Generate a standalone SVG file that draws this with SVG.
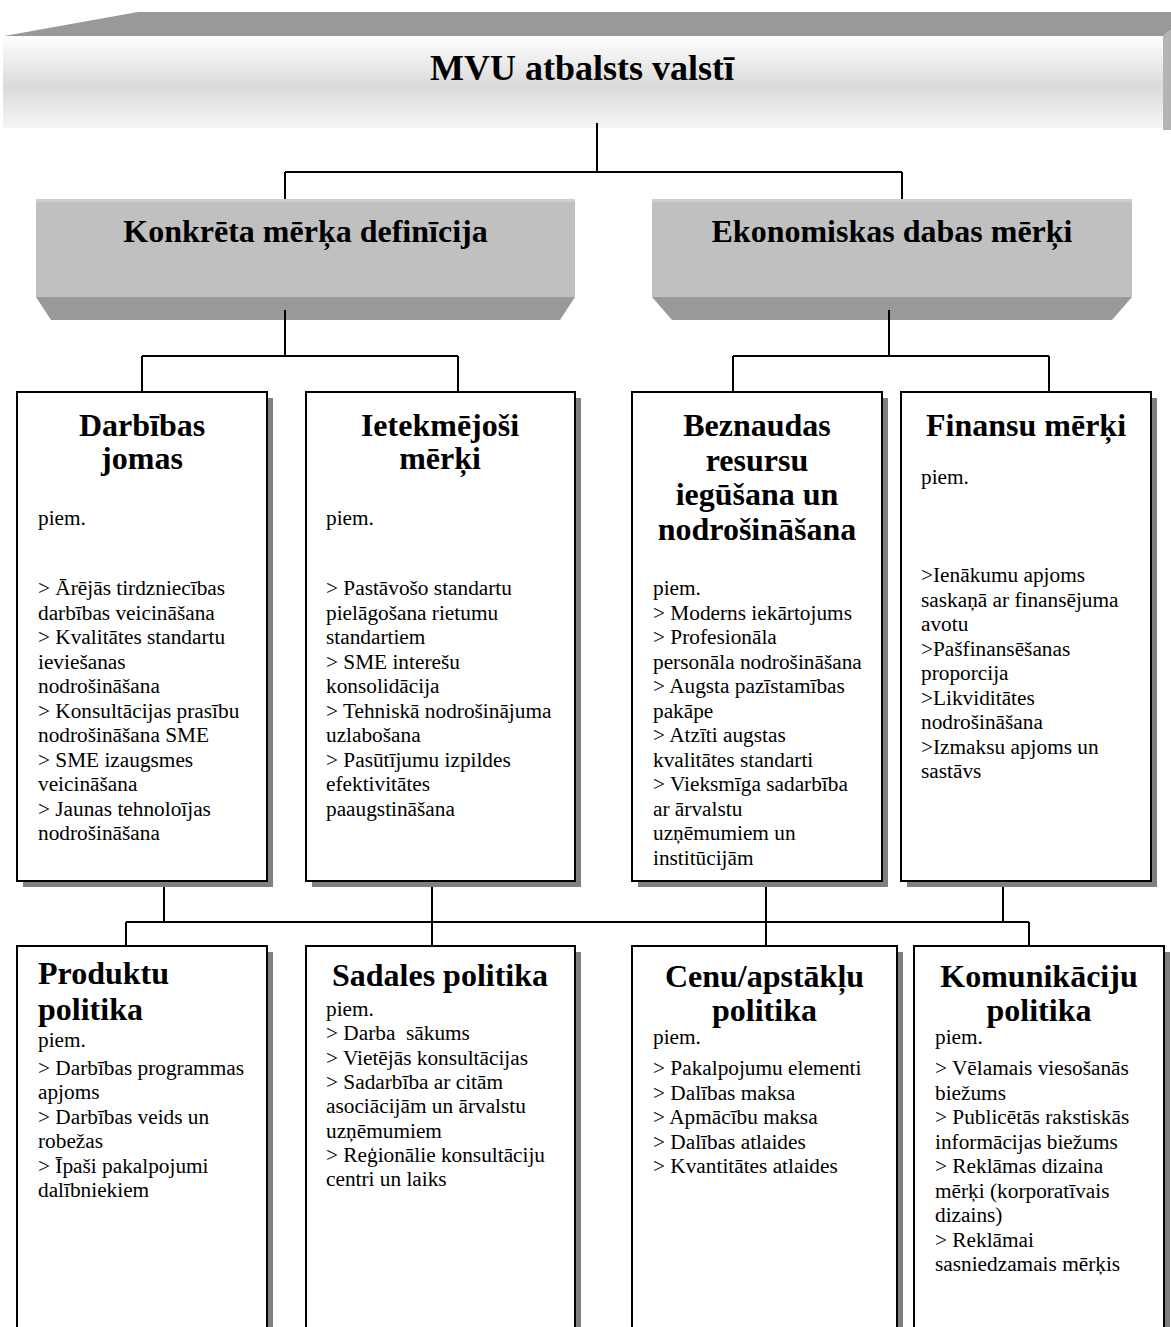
<svg xmlns="http://www.w3.org/2000/svg" width="1171" height="1327" viewBox="0 0 1171 1327">
<style>
.t{font-family:"Liberation Serif","Times New Roman",serif;fill:#000}
.title{font-size:36px;font-weight:bold;text-anchor:middle}
.h2{font-size:32px;font-weight:bold;text-anchor:middle}
.h3{font-size:32px;font-weight:bold;text-anchor:middle}
.h3l{font-size:32px;font-weight:bold}
.b{font-size:21.3px}
.box{fill:#fff;stroke:#000;stroke-width:2}
.sh{fill:#808080}
.front{fill:#c0c0c0}
.bottom{fill:#999}
.conn{stroke:#000;stroke-width:2;fill:none}
</style>
<defs>
<linearGradient id="banner" x1="0" y1="0" x2="0" y2="1">
<stop offset="0" stop-color="#ffffff"/>
<stop offset="0.55" stop-color="#dadada"/>
<stop offset="1" stop-color="#f6f6f6"/>
</linearGradient>
</defs>
<rect width="1171" height="1327" fill="#fff"/>

<g id="title">
<polygon points="4,36 138,12 1171,12 1171,30 1163,36" fill="#999"/>
<polygon points="1163,36 1171,30 1171,130 1163,130" fill="#b4b4b4"/>
<rect x="3" y="36" width="1160" height="92" fill="url(#banner)"/>
<text class="t title" x="582" y="80">MVU atbalsts valstī</text>
</g>

<g id="connectors" class="conn">
<path d="M597,123V172M285,172H902M285,172V199M902,172V199"/>
<path d="M285,310V356M142,356H458M142,356V392M458,356V392"/>
<path d="M889,310V356M733,356H1049M733,356V392M1049,356V392"/>
<path d="M164,887V922M126,922H1029M126,922V946M432,887V946M766,887V946M1003,887V922M1029,922V946"/>
</g>

<g id="konkreta">
<rect class="front" x="36" y="199" width="539" height="98"/>
<rect x="36" y="199" width="539" height="3" fill="#cfcfcf"/>
<polygon class="bottom" points="36,297 575,297 560,320 51,320"/>
<line x1="285" y1="310" x2="285" y2="320" stroke="#000" stroke-width="2"/>
<text class="t h2" x="305.5" y="242">Konkrēta mērķa definīcija</text>
</g>

<g id="ekonomiskas">
<rect class="front" x="652" y="199" width="480" height="98"/>
<rect x="652" y="199" width="480" height="3" fill="#cfcfcf"/>
<polygon class="bottom" points="652,297 1132,297 1112,320 672,320"/>
<line x1="889" y1="310" x2="889" y2="320" stroke="#000" stroke-width="2"/>
<text class="t h2" x="892" y="242">Ekonomiskas dabas mērķi</text>
</g>

<g id="darbibas">
<rect class="sh" x="23" y="398" width="250" height="489"/>
<rect class="box" x="17" y="392" width="250" height="489"/>
<text class="t h3" x="142" y="436">Darbības<tspan x="142" dy="33">jomas</tspan></text>
<text class="t b" x="38" y="525">piem.</text>
<text class="t b" y="595"><tspan x="38">&gt; Ārējās tirdzniecības</tspan><tspan x="38" dy="24.5">darbības veicināšana</tspan><tspan x="38" dy="24.5">&gt; Kvalitātes standartu</tspan><tspan x="38" dy="24.5">ieviešanas</tspan><tspan x="38" dy="24.5">nodrošināšana</tspan><tspan x="38" dy="24.5">&gt; Konsultācijas prasību</tspan><tspan x="38" dy="24.5">nodrošināšana SME</tspan><tspan x="38" dy="24.5">&gt; SME izaugsmes</tspan><tspan x="38" dy="24.5">veicināšana</tspan><tspan x="38" dy="24.5">&gt; Jaunas tehnoloījas</tspan><tspan x="38" dy="24.5">nodrošināšana</tspan></text>
</g>

<g id="ietekmejosi">
<rect class="sh" x="312" y="398" width="269" height="489"/>
<rect class="box" x="306" y="392" width="269" height="489"/>
<text class="t h3" x="440" y="436">Ietekmējoši<tspan x="440" dy="33">mērķi</tspan></text>
<text class="t b" x="326" y="525">piem.</text>
<text class="t b" y="595"><tspan x="326">&gt; Pastāvošo standartu</tspan><tspan x="326" dy="24.5">pielāgošana rietumu</tspan><tspan x="326" dy="24.5">standartiem</tspan><tspan x="326" dy="24.5">&gt; SME interešu</tspan><tspan x="326" dy="24.5">konsolidācija</tspan><tspan x="326" dy="24.5">&gt; Tehniskā nodrošinājuma</tspan><tspan x="326" dy="24.5">uzlabošana</tspan><tspan x="326" dy="24.5">&gt; Pasūtījumu izpildes</tspan><tspan x="326" dy="24.5">efektivitātes</tspan><tspan x="326" dy="24.5">paaugstināšana</tspan></text>
</g>

<g id="beznaudas">
<rect class="sh" x="638" y="398" width="250" height="489"/>
<rect class="box" x="632" y="392" width="250" height="489"/>
<text class="t h3" x="757" y="436">Beznaudas<tspan x="757" dy="34.7">resursu</tspan><tspan x="757" dy="34.7">iegūšana un</tspan><tspan x="757" dy="34.7">nodrošināšana</tspan></text>
<text class="t b" y="595"><tspan x="653">piem.</tspan><tspan x="653" dy="24.5">&gt; Moderns iekārtojums</tspan><tspan x="653" dy="24.5">&gt; Profesionāla</tspan><tspan x="653" dy="24.5">personāla nodrošināšana</tspan><tspan x="653" dy="24.5">&gt; Augsta pazīstamības</tspan><tspan x="653" dy="24.5">pakāpe</tspan><tspan x="653" dy="24.5">&gt; Atzīti augstas</tspan><tspan x="653" dy="24.5">kvalitātes standarti</tspan><tspan x="653" dy="24.5">&gt; Vieksmīga sadarbība</tspan><tspan x="653" dy="24.5">ar ārvalstu</tspan><tspan x="653" dy="24.5">uzņēmumiem un</tspan><tspan x="653" dy="24.5">institūcijām</tspan></text>
</g>

<g id="finansu">
<rect class="sh" x="907" y="398" width="250" height="489"/>
<rect class="box" x="901" y="392" width="250" height="489"/>
<text class="t h3" x="1026" y="436">Finansu mērķi</text>
<text class="t b" x="921" y="484">piem.</text>
<text class="t b" y="582"><tspan x="921">&gt;Ienākumu apjoms</tspan><tspan x="921" dy="24.5">saskaņā ar finansējuma</tspan><tspan x="921" dy="24.5">avotu</tspan><tspan x="921" dy="24.5">&gt;Pašfinansēšanas</tspan><tspan x="921" dy="24.5">proporcija</tspan><tspan x="921" dy="24.5">&gt;Likviditātes</tspan><tspan x="921" dy="24.5">nodrošināšana</tspan><tspan x="921" dy="24.5">&gt;Izmaksu apjoms un</tspan><tspan x="921" dy="24.5">sastāvs</tspan></text>
</g>

<g id="produktu">
<rect class="sh" x="23" y="952" width="250" height="400"/>
<rect class="box" x="17" y="946" width="250" height="400"/>
<text class="t h3l" x="38" y="984">Produktu<tspan x="38" dy="36">politika</tspan></text>
<text class="t b" x="38" y="1047">piem.</text>
<text class="t b" y="1075"><tspan x="38">&gt; Darbības programmas</tspan><tspan x="38" dy="24.4">apjoms</tspan><tspan x="38" dy="24.4">&gt; Darbības veids un</tspan><tspan x="38" dy="24.4">robežas</tspan><tspan x="38" dy="24.4">&gt; Īpaši pakalpojumi</tspan><tspan x="38" dy="24.4">dalībniekiem</tspan></text>
</g>

<g id="sadales">
<rect class="sh" x="312" y="952" width="269" height="400"/>
<rect class="box" x="306" y="946" width="269" height="400"/>
<text class="t h3" x="440" y="986">Sadales politika</text>
<text class="t b" y="1016" xml:space="preserve"><tspan x="326">piem.</tspan><tspan x="326" dy="24.3">&gt; Darba  sākums</tspan><tspan x="326" dy="24.3">&gt; Vietējās konsultācijas</tspan><tspan x="326" dy="24.3">&gt; Sadarbība ar citām</tspan><tspan x="326" dy="24.3">asociācijām un ārvalstu</tspan><tspan x="326" dy="24.3">uzņēmumiem</tspan><tspan x="326" dy="24.3">&gt; Reģionālie konsultāciju</tspan><tspan x="326" dy="24.3">centri un laiks</tspan></text>
</g>

<g id="cenu">
<rect class="sh" x="638" y="952" width="265" height="400"/>
<rect class="box" x="632" y="946" width="265" height="400"/>
<text class="t h3" x="764.5" y="987">Cenu/apstākļu<tspan x="764.5" dy="34">politika</tspan></text>
<text class="t b" x="653" y="1044">piem.</text>
<text class="t b" y="1075"><tspan x="653">&gt; Pakalpojumu elementi</tspan><tspan x="653" dy="24.5">&gt; Dalības maksa</tspan><tspan x="653" dy="24.5">&gt; Apmācību maksa</tspan><tspan x="653" dy="24.5">&gt; Dalības atlaides</tspan><tspan x="653" dy="24.5">&gt; Kvantitātes atlaides</tspan></text>
</g>

<g id="komunikaciju">
<rect class="sh" x="920" y="952" width="250" height="400"/>
<rect class="box" x="914" y="946" width="250" height="400"/>
<text class="t h3" x="1039" y="987">Komunikāciju<tspan x="1039" dy="34">politika</tspan></text>
<text class="t b" x="935" y="1044">piem.</text>
<text class="t b" y="1075"><tspan x="935">&gt; Vēlamais viesošanās</tspan><tspan x="935" dy="24.5">biežums</tspan><tspan x="935" dy="24.5">&gt; Publicētās rakstiskās</tspan><tspan x="935" dy="24.5">informācijas biežums</tspan><tspan x="935" dy="24.5">&gt; Reklāmas dizaina</tspan><tspan x="935" dy="24.5">mērķi (korporatīvais</tspan><tspan x="935" dy="24.5">dizains)</tspan><tspan x="935" dy="24.5">&gt; Reklāmai</tspan><tspan x="935" dy="24.5">sasniedzamais mērķis</tspan></text>
</g>
</svg>
